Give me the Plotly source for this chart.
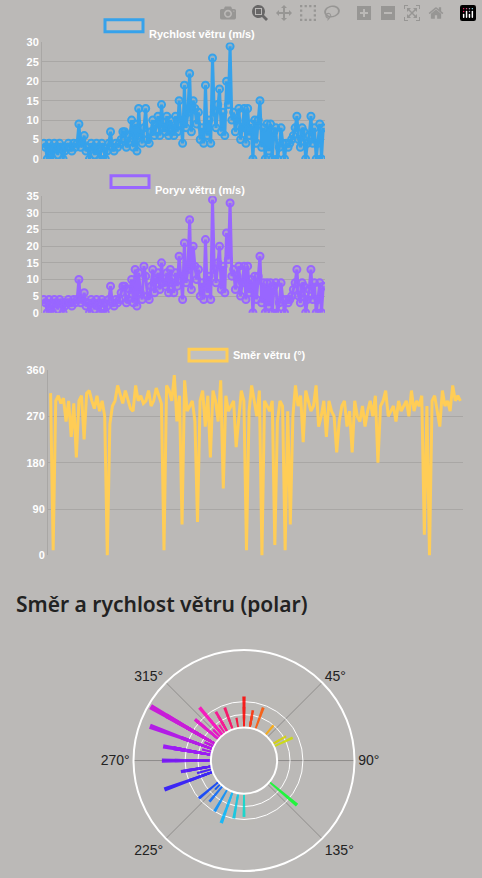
import plotly.graph_objects as go

speed = [4,3,0,4,2,0,4,3,1,4,3,0,2,3,4,3,2,4,3,4,9,3,4,6,2,3,0,4,3,1,4,2,
         0,4,3,0,2,4,7,3,2,4,3,4,5,7,7,3,4,6,10,3,9,2,13,6,4,8,13,5,4,7,10,6,
         9,11,6,14,8,7,11,6,10,8,6,11,7,15,9,4,19,8,12,22,7,15,13,9,12,5,8,4,19,6,10,4,
         26,12,8,14,18,7,12,6,20,14,29,10,12,7,10,13,5,8,13,4,13,6,9,0,10,4,10,15,3,8,0,9,
         2,9,0,7,8,0,3,8,4,0,4,3,4,5,6,8,11,5,3,8,7,0,4,6,11,4,8,0,4,9,0,8,6,3]
gust = [4,3,0,4,2,0,4,3,1,4,3,0,2,3,4,3,2,4,3,4,10,3,4,6,2,3,0,4,3,1,4,2,
        0,4,3,0,2,4,8,3,2,4,3,4,6,8,8,3,4,7,10,3,13,2,12,6,4,14,11,5,4,8,13,6,
        10,12,7,15,9,8,12,6,13,9,6,12,8,17,10,4,21,9,13,28,7,20,14,10,13,5,9,4,22,6,11,4,
        34,13,9,15,20,7,14,6,24,16,33,11,13,7,11,14,5,9,14,4,14,6,10,0,11,4,11,17,3,9,0,9,
        2,9,0,8,9,0,3,9,4,0,4,3,4,5,7,9,13,5,3,9,8,0,4,7,13,4,9,0,4,9,0,8,7,3]
direction = [315,10,300,310,295,305,260,300,230,295,190,300,310,225,315,320,300,285,310,280,
             300,270,0,255,290,300,330,310,295,320,300,285,280,330,300,310,295,300,320,290,
             300,325,310,295,10,330,320,300,350,260,310,60,340,280,290,300,260,65,300,320,
             250,310,190,320,300,260,340,130,310,280,290,300,210,270,320,300,10,280,330,300,
             270,320,0,300,290,280,300,20,260,300,290,10,280,60,270,330,290,310,220,320,
             300,280,290,330,250,270,300,230,300,280,270,200,260,290,300,250,280,200,300,270,
             260,290,250,280,300,270,310,180,290,300,320,270,280,290,260,300,280,290,300,270,
             320,280,300,290,310,40,290,0,300,310,280,250,320,290,300,280,330,300,310,300]
n = min(len(speed), len(gust), len(direction))
speed, gust, direction = speed[:n], gust[:n], direction[:n]
t = list(range(n))

BG = "#bbb9b7"
W, H = 482, 878
def py(p):
    return 1 - p / H
def px(p):
    return p / W

fig = go.Figure()
fig.add_trace(go.Scatter(x=t, y=speed, mode="lines+markers", line=dict(color="rgb(54,162,235)", width=3),
                         marker=dict(size=7, color="rgba(54,162,235,0.3)", line=dict(color="rgb(54,162,235)", width=2)),
                         xaxis="x", yaxis="y", showlegend=False))
fig.add_trace(go.Scatter(x=t, y=gust, mode="lines+markers", line=dict(color="rgb(153,102,255)", width=3),
                         marker=dict(size=7, color="rgba(153,102,255,0.3)", line=dict(color="rgb(153,102,255)", width=2)),
                         xaxis="x2", yaxis="y2", showlegend=False))
fig.add_trace(go.Scatter(x=t, y=direction, mode="lines", line=dict(color="rgb(255,205,86)", width=3),
                         xaxis="x3", yaxis="y3", showlegend=False))
fig.add_trace(go.Barpolar(r=speed, theta=direction, width=[3]*n, base=0,
                          marker=dict(color=direction, colorscale="HSV", cmin=0, cmax=360, line=dict(width=0)),
                          opacity=0.85, showlegend=False))

ax = dict(showgrid=False, showticklabels=False, zeroline=False, showline=False, range=[-1, n])
yax = dict(gridcolor="#a9a7a5", zeroline=False,
           tickfont=dict(color="white", size=11, family="Liberation Sans", weight="bold"),
           showline=True, linecolor="#a9a7a5", ticks="")
fig.update_layout(
    width=W, height=H, margin=dict(l=0, r=0, t=0, b=0),
    paper_bgcolor=BG, plot_bgcolor=BG,
    xaxis=dict(ax, domain=[px(42), px(325)], anchor="y"),
    yaxis=dict(yax, domain=[py(155), py(37)], range=[0, 30], dtick=5, anchor="x"),
    xaxis2=dict(ax, domain=[px(42), px(325)], anchor="y2"),
    yaxis2=dict(yax, domain=[py(311), py(193)], range=[0, 35], dtick=5, anchor="x2"),
    xaxis3=dict(ax, domain=[px(48), px(463)], anchor="y3"),
    yaxis3=dict(yax, domain=[py(557), py(369)], range=[0, 360], dtick=90, anchor="x3"),
    polar=dict(
        domain=dict(x=[px(132), px(356)], y=[py(877), py(653)]),
        bgcolor=BG, hole=0.3,
        angularaxis=dict(rotation=90, direction="clockwise", tickvals=[45, 90, 135, 225, 270, 315],
                         ticktext=["45°", "90°", "135°", "225°", "270°", "315°"],
                         tickfont=dict(color="#222", size=14, family="Liberation Sans"),
                         gridcolor="#8f8d8b", linecolor="white", linewidth=2, ticks=""),
        radialaxis=dict(range=[0, 30], tickvals=[5, 10], showticklabels=False, gridcolor="white",
                        showline=False, ticks=""),
    ),
    title=dict(text="Směr a rychlost větru (polar)", x=px(16), xanchor="left", y=py(605), yanchor="middle",
               font=dict(size=21, color="#222", family="Noto Sans", weight=600)),
)

legends = [("Rychlost větru (m/s)", 105, 20, "rgb(54,162,235)"),
           ("Poryv větru (m/s)", 111, 178, "rgb(153,102,255)"),
           ("Směr větru (°)", 189, 354, "rgb(255,205,86)")]
for text, bx, by, col in legends:
    fig.add_shape(type="rect", xref="paper", yref="paper", x0=px(bx), x1=px(bx + 38), y0=py(by + 6), y1=py(by - 6),
                  line=dict(color=col, width=3), fillcolor="rgba(200,200,200,0.5)")
    fig.add_annotation(text=text, xref="paper", yref="paper", x=px(bx + 42), y=py(by), xanchor="left",
                       showarrow=False, font=dict(color="white", size=11, family="Liberation Sans", weight="bold"))

fig.write_html("out.html", post_script="document.body.style.margin='0';document.body.style.background='#bbb9b7';")
